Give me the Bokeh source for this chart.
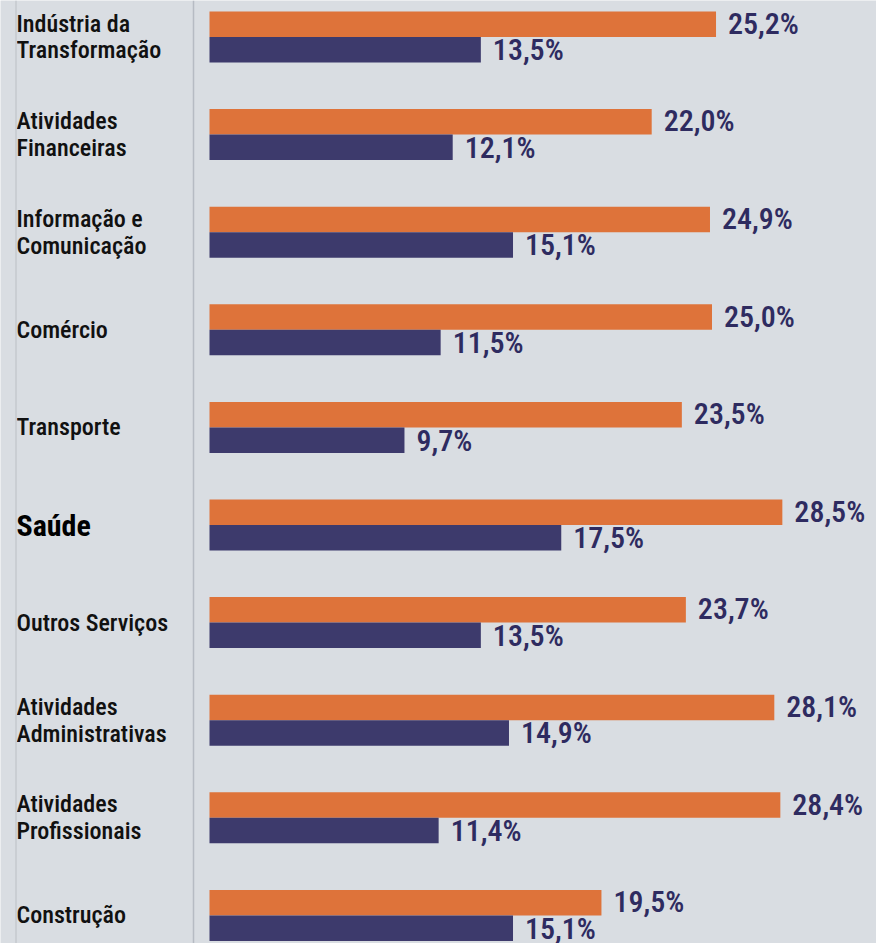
import numpy as np
from bokeh.plotting import figure
from bokeh.models import Range1d, Span, ColumnDataSource
from bokeh.core.properties import value
from bokeh.embed import file_html
from bokeh.resources import INLINE

categories = ["Indústria da\nTransformação", "Atividades\nFinanceiras", "Informação e\nComunicação",
              "Comércio", "Transporte", "Saúde", "Outros Serviços",
              "Atividades\nAdministrativas", "Atividades\nProfissionais", "Construção"]
orange_vals = [25.2, 22.0, 24.9, 25.0, 23.5, 28.5, 23.7, 28.1, 28.4, 19.5]
blue_vals = [13.5, 12.1, 15.1, 11.5, 9.7, 17.5, 13.5, 14.9, 11.4, 15.1]
bold_category = "Saúde"

W, H = 876, 943
PX_PER = 20.1          # pixels per percentage point
X0 = 209               # pixel position of zero
GROUP = 97.6           # pixel spacing of groups
TOP = 36.5             # pixel centre of first group
BAR_PX = 25.5

BG = "#d9dde2"
ORANGE = "#de733a"
NAVY = "#3d3a6c"
LABEL_NAVY = "#2e2b60"
FONT = "'Roboto Condensed Medium', 'Roboto Condensed', sans-serif"
FONT_BOLD = "'Roboto Condensed', sans-serif"

p = figure(width=W, height=H, output_backend="svg", toolbar_location=None,
           x_range=Range1d(-X0 / PX_PER, (W - X0) / PX_PER),
           y_range=Range1d((H - TOP) / GROUP, -TOP / GROUP),
           min_border=0, background_fill_color=BG, border_fill_color=BG)
p.axis.visible = False
p.grid.visible = False
p.outline_line_color = None

idx = np.arange(len(categories))
off = (BAR_PX / GROUP) / 2
h = BAR_PX / GROUP

src = ColumnDataSource(dict(
    yo=idx - off, yb=idx + off,
    o=orange_vals, b=blue_vals,
    ol=[f"{v:.1f}%".replace(".", ",") for v in orange_vals],
    bl=[f"{v:.1f}%".replace(".", ",") for v in blue_vals],
))

p.hbar(y="yo", right="o", left=0, height=h, source=src, fill_color=ORANGE, line_color=None)
p.hbar(y="yb", right="b", left=0, height=h, source=src, fill_color=NAVY, line_color=None)

p.text(x="o", y="yo", text="ol", source=src, x_offset=12, y_offset=-1,
       text_baseline="middle", text_align="left", text_font=value(FONT),
       text_font_size="30px", text_color=LABEL_NAVY)
p.text(x="b", y="yb", text="bl", source=src, x_offset=12,
       text_baseline="middle", text_align="left", text_font=value(FONT),
       text_font_size="30px", text_color=LABEL_NAVY)

lab_x = (16 - X0) / PX_PER
norm = [(c, i) for i, c in enumerate(categories) if c != bold_category]
bold = [(c, i) for i, c in enumerate(categories) if c == bold_category]
p.text(x=[lab_x] * len(norm), y=[i for _, i in norm], text=[c for c, _ in norm],
       text_baseline="middle", text_align="left", text_font=value(FONT),
       text_font_size="24px", text_color="#111111", text_line_height=0.96)
p.text(x=[lab_x] * len(bold), y=[i for _, i in bold], text=[c for c, _ in bold],
       text_baseline="middle", text_align="left", text_font=value(FONT_BOLD),
       text_font_size="30px", text_font_style="bold", text_color="#000000")

p.add_layout(Span(location=(15.5 - X0) / PX_PER, dimension="height",
                  line_color="#c4c8ce", line_width=1.5))
p.add_layout(Span(location=(193 - X0) / PX_PER, dimension="height",
                  line_color="#b6bbc3", line_width=1.5))

open("out.html", "w").write(file_html(p, INLINE))
